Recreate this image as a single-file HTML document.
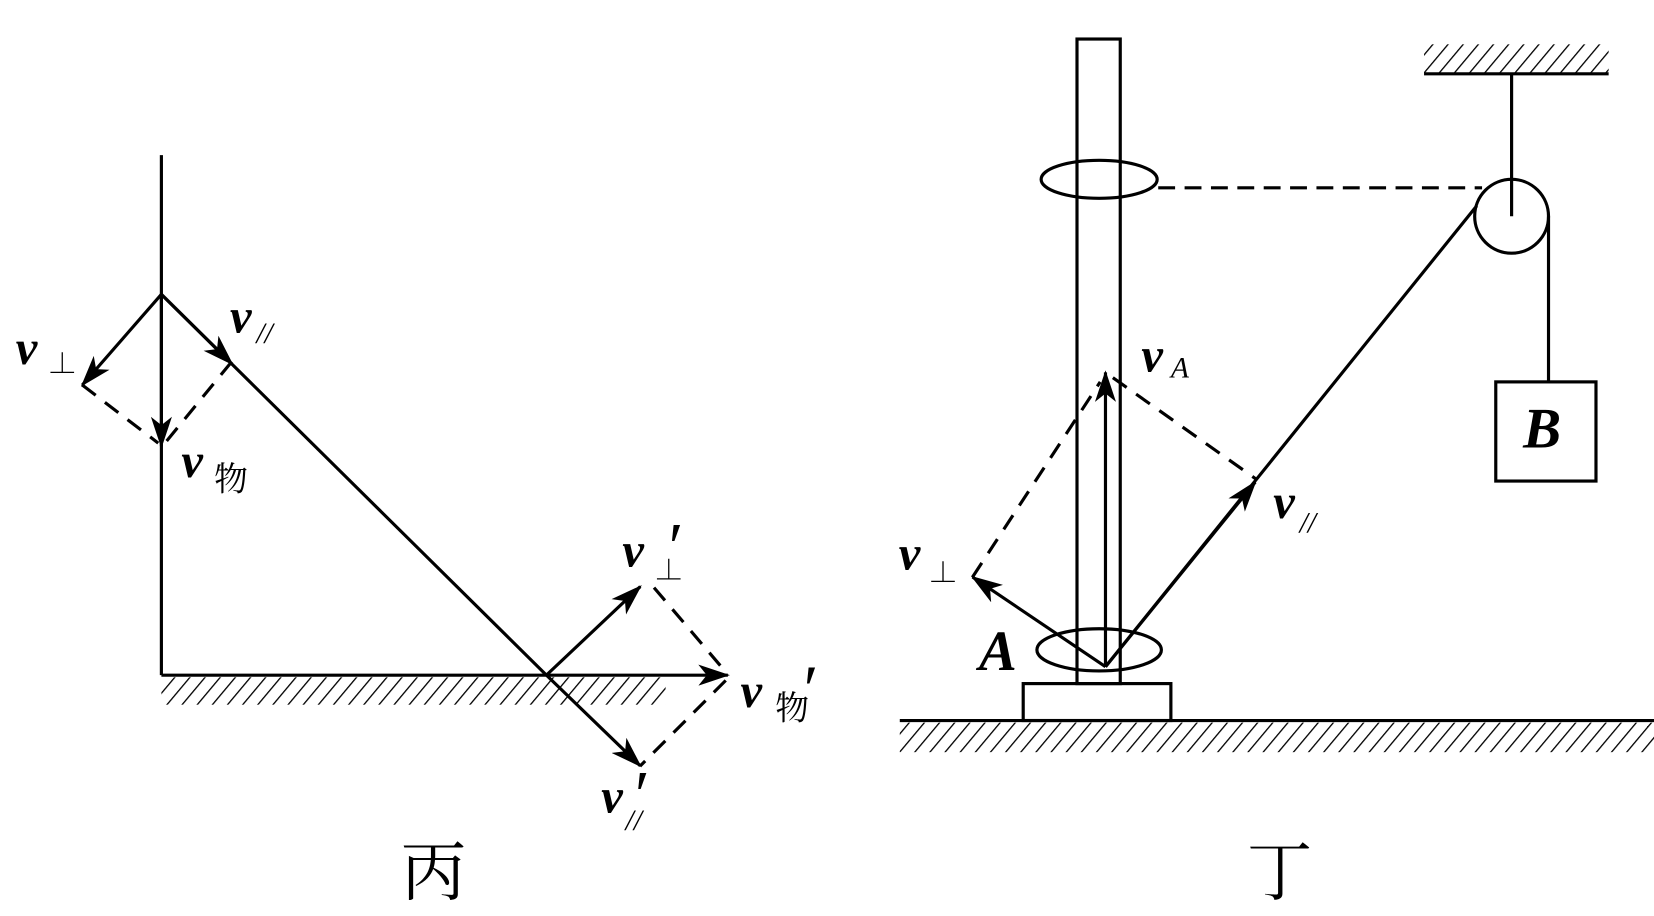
<!DOCTYPE html>
<html><head><meta charset="utf-8"><style>
html,body{margin:0;padding:0;background:#fff;}
svg{display:block;}
.t{font-family:"Liberation Serif","Noto Serif CJK SC",serif;font-style:italic;font-weight:bold;fill:#000;}
.s{font-family:"Liberation Serif","Noto Serif CJK SC",serif;fill:#000;}
</style></head><body>
<svg width="1654" height="916" viewBox="0 0 1568 868.3" preserveAspectRatio="none" xmlns="http://www.w3.org/2000/svg">
<defs>
<marker id="ar" viewBox="0 0 30 20" refX="28" refY="10" markerWidth="30" markerHeight="20" markerUnits="userSpaceOnUse" orient="auto">
<path d="M0,0 L30,10 L0,20 L8,10 Z" fill="#000"/></marker>
<pattern id="h" width="11" height="11" patternUnits="userSpaceOnUse" patternTransform="rotate(40)">
<line x1="0" y1="0" x2="0" y2="11" stroke="#000" stroke-width="2.5"/></pattern>
</defs>
<g stroke="#000" stroke-width="3" fill="none">
<line x1="153" y1="147" x2="153" y2="640"/>
<rect x="153" y="642" width="478" height="26" fill="url(#h)" stroke="none"/>
<line x1="153" y1="640" x2="690" y2="640" marker-end="url(#ar)"/>
<line x1="153" y1="279" x2="518" y2="640"/>
<line x1="153" y1="279" x2="220" y2="345" marker-end="url(#ar)"/>
<line x1="518" y1="640" x2="607" y2="726" marker-end="url(#ar)"/>
<line x1="518" y1="640" x2="607" y2="556" marker-end="url(#ar)"/>
<line x1="153" y1="279" x2="78" y2="365" marker-end="url(#ar)"/>
<line x1="153" y1="279" x2="153" y2="423" marker-end="url(#ar)"/>
<g stroke-dasharray="16,11">
<line x1="78" y1="365" x2="150" y2="420"/>
<line x1="158" y1="418" x2="222" y2="340"/>
<line x1="620" y1="557" x2="688" y2="637"/>
<line x1="688" y1="645" x2="607" y2="726"/>
</g>
<rect x="1021" y="37" width="41" height="611"/>
<ellipse cx="1042" cy="170" rx="55" ry="18"/>
<line x1="1098" y1="178" x2="1405" y2="178" stroke-dasharray="16,9"/>
<rect x="1350" y="42" width="175" height="27" fill="url(#h)" stroke="none"/>
<line x1="1350" y1="70" x2="1525" y2="70"/>
<line x1="1433" y1="70" x2="1433" y2="205"/>
<circle cx="1433" cy="205" r="35"/>
<line x1="1468" y1="205" x2="1468" y2="362"/>
<rect x="1418" y="362" width="95" height="94"/>
<line x1="1400" y1="195" x2="1048" y2="632"/>
<line x1="1048" y1="632" x2="1190" y2="457" marker-end="url(#ar)"/>
<line x1="1048" y1="632" x2="922" y2="547" marker-end="url(#ar)"/>
<line x1="1048" y1="632" x2="1048" y2="353" marker-end="url(#ar)"/>
<ellipse cx="1042" cy="616" rx="59" ry="20"/>
<rect x="970" y="648" width="140" height="35"/>
<rect x="853" y="685" width="715" height="28" fill="url(#h)" stroke="none"/>
<line x1="853" y1="683" x2="1568" y2="683"/>
<g stroke-dasharray="16,11">
<line x1="922" y1="547" x2="1043" y2="362"/>
<line x1="1055" y1="358" x2="1192" y2="455"/>
</g>
</g>
<g font-size="46">
<text class="t" x="15" y="345">v</text><text class="s" x="45" y="354" font-size="28">⊥</text>
<text class="t" x="218" y="315">v</text><text class="s" x="243" y="325" font-size="28" font-style="italic">//</text>
<text class="t" x="172" y="452">v</text><text class="s" x="203" y="465" font-size="32">物</text>
<text class="t" x="590" y="537">v</text><text class="s" x="620" y="550" font-size="28">⊥</text><text class="s" x="630" y="540" font-size="64" font-style="italic">′</text>
<text class="t" x="702" y="670">v</text><text class="s" x="735" y="682" font-size="32">物</text><text class="s" x="758" y="675" font-size="64" font-style="italic">′</text>
<text class="t" x="570" y="770">v</text><text class="s" x="593" y="787" font-size="28" font-style="italic">//</text><text class="s" x="598" y="775" font-size="64" font-style="italic">′</text>
<text class="t" x="1082" y="352">v</text><text class="s" x="1110" y="358" font-size="28" font-style="italic">A</text>
<text class="t" x="1207" y="491">v</text><text class="s" x="1232" y="505" font-size="28" font-style="italic">//</text>
<text class="t" x="852" y="540">v</text><text class="s" x="880" y="552" font-size="28">⊥</text>
<text class="s" x="928" y="635" font-size="54" font-style="italic" font-weight="bold">A</text>
<text class="s" x="1444" y="424" font-size="54" font-style="italic" font-weight="bold">B</text>
<text class="s" x="380" y="848" font-size="62">丙</text>
<text class="s" x="1182" y="848" font-size="62">丁</text>
</g>
</svg>
</body></html>
